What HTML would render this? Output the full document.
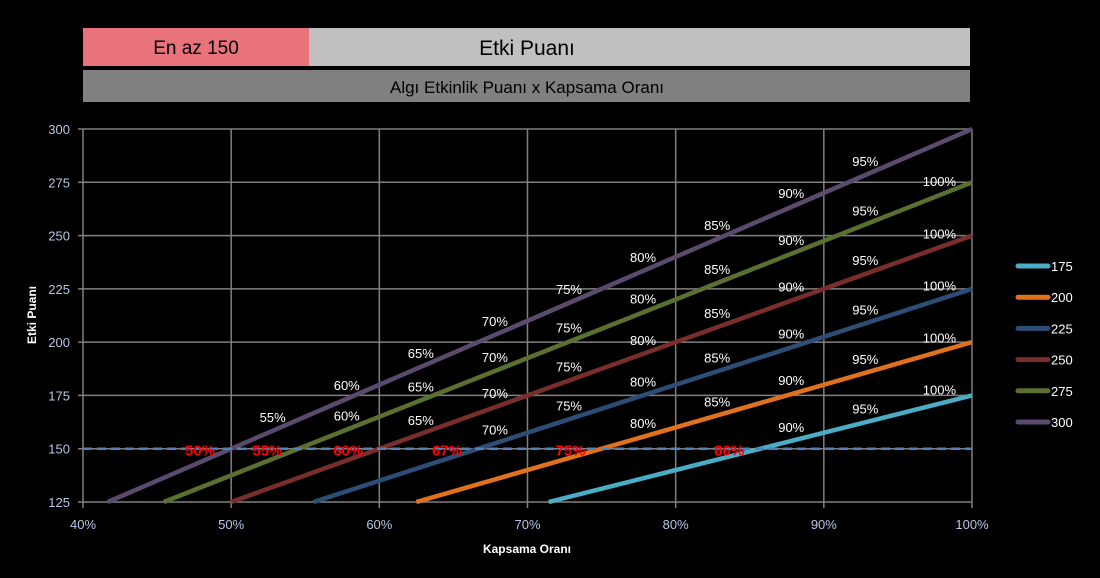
<!DOCTYPE html>
<html><head><meta charset="utf-8"><style>
body{margin:0;background:#000;width:1100px;height:573px;overflow:hidden;font-family:"Liberation Sans",sans-serif}
</style></head><body>
<svg id="c" width="1100" height="573" xmlns="http://www.w3.org/2000/svg">
<rect x="83" y="28" width="226" height="38" fill="#e8737a"/>
<text x="196" y="54" font-size="19" text-anchor="middle" fill="#000">En az 150</text>
<rect x="309" y="28" width="661" height="38" fill="#c0c0c0"/>
<text x="527" y="55" font-size="21" text-anchor="middle" fill="#000">Etki Puanı</text>
<rect x="83" y="70" width="887" height="32" fill="#808080"/>
<text x="527" y="93" font-size="17" text-anchor="middle" fill="#000">Algı Etkinlik Puanı x Kapsama Oranı</text>
<g id="plot"></g>
<text x="527" y="553" font-size="12" font-weight="bold" text-anchor="middle" fill="#fff">Kapsama Oranı</text>
<text x="36" y="315" font-size="12" font-weight="bold" text-anchor="middle" fill="#fff" transform="rotate(-90 36 315)">Etki Puanı</text>
</svg>
<script>
const series=[175,200,225,250,275,300];
const colors=["#4bacc6","#e0721f","#2c4d75","#7a2e2c","#5a7030","#5c4a6e"];
const labelSets=[[90,95,100],[80,85,90,95,100],[70,75,80,85,90,95,100],[65,70,75,80,85,90,95,100],[60,65,70,75,80,85,90,95,100],[55,60,65,70,75,80,85,90,95]];
const xTicks=[40,50,60,70,80,90,100];
const yTicks=[125,150,175,200,225,250,275,300];
const threshold=150;
const redLabels=["86%","75%","67%","60%","55%","50%"];
const X0=83,X1=972,Y0=502,Y1=129;
const xs=p=>X0+(p-40)/60*(X1-X0);
const ys=v=>Y0-(v-125)/175*(Y0-Y1);
const NS="http://www.w3.org/2000/svg";
const g=document.getElementById('plot');
function mk(t,a){const e=document.createElementNS(NS,t);for(const k in a)e.setAttribute(k,a[k]);g.appendChild(e);return e;}
xTicks.forEach(p=>{
 const l=mk('line',{x1:xs(p),x2:xs(p),y1:Y1,y2:Y0+6,stroke:'#808080','stroke-width':1.5});
 
 
 const t=mk('text',{x:xs(p),y:Y0+27,'font-size':13,fill:'#b4c6e7','text-anchor':'middle'});t.textContent=p+'%';
 
 
});
yTicks.forEach(v=>{
 const l=mk('line',{x1:X0-5,x2:X1,y1:ys(v),y2:ys(v),stroke:'#808080','stroke-width':1.5});
 
 
 const t=mk('text',{x:X0-13,y:ys(v)+5,'font-size':13,fill:'#b4c6e7','text-anchor':'end'});t.textContent=v;
 
 
});
series.forEach((k,i)=>{
 const pStart=Math.max(40,125/k*100);
 const l=mk('line',{x1:xs(pStart),y1:ys(k*pStart/100),x2:xs(100),y2:ys(k),stroke:colors[i],'stroke-width':4.5});
 
 
 labelSets[i].forEach(p=>{
  const px=p-2.2;
  const t=mk('text',{x:xs(px),y:ys(k*px/100)-9,'font-size':13,fill:'#fff','text-anchor':'middle'});t.textContent=p+'%';
  
  
 });
});
const th=mk('line',{x1:X0,x2:X1,y1:ys(threshold),y2:ys(threshold),stroke:'#4f81bd','stroke-width':2.5,'stroke-dasharray':'9,5'});


series.forEach((k,i)=>{
 const p=threshold/k*100-2.1;
 const t=mk('text',{x:xs(p),y:ys(threshold)+7,'font-size':15,'font-weight':'bold',fill:'#ff0000','text-anchor':'middle'});t.textContent=redLabels[i];
 
 
});
series.forEach((k,i)=>{
 const y=266+i*31.2;
 const l=mk('line',{x1:1018,x2:1048,y1:y,y2:y,stroke:colors[i],'stroke-width':5,'stroke-linecap':'round'});
 
 
 const t=mk('text',{x:1051,y:y+5,'font-size':13,fill:'#fff'});t.textContent=k;
 
 
});
</script>
</body></html>
